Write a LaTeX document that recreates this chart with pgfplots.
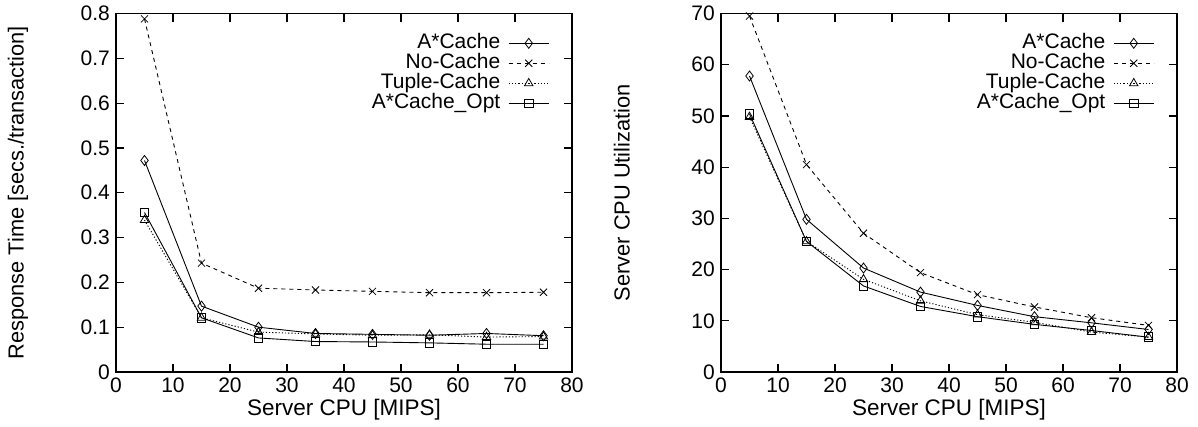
\documentclass[border=0pt]{standalone}
\usepackage{fontspec}
\setmainfont{Liberation Sans}
\usepackage{pgfplots}
\usepackage{pgfplotstable}
\pgfplotsset{compat=1.18}

\pgfplotstableread{
x   acache  nocache tuple  opt
5   0.472   0.788   0.339  0.356
15  0.147   0.243   0.121  0.121
25  0.100   0.187   0.089  0.076
35  0.086   0.183   0.085  0.068
45  0.084   0.180   0.082  0.067
55  0.082   0.177   0.083  0.065
65  0.086   0.177   0.078  0.062
75  0.081   0.178   0.079  0.062
}\resptable

\pgfplotstableread{
x   acache  nocache tuple  opt
5   57.8    69.5    49.8   50.4
15  29.8    40.5    25.5   25.5
25  20.3    27.1    18.1   16.8
35  15.6    19.4    13.9   12.8
45  13.0    15.1    11.2   10.8
55  10.8    12.7    9.7    9.3
65  9.6     10.6    7.8    8.1
75  8.3     9.1     6.8    6.8
}\utiltable

\newcommand{\tickfont}{\fontsize{21}{25}\selectfont}
\newcommand{\labfont}{\fontsize{22.5}{27}\selectfont}
\newcommand{\legfont}{\fontsize{21}{25}\selectfont}
\newcommand{\ylabfont}{\fontsize{21.8}{26}\selectfont}

\pgfplotsset{
  myaxis/.style={
    scale only axis, width=456pt, height=358.5pt, anchor=south west,
    xmin=0, xmax=80, xtick={0,10,...,80},
    tick align=inside, major tick length=8pt,
    axis line style={line width=1.2pt},
    every tick/.style={line width=1.2pt, black},
    tick label style={font=\tickfont},
    xticklabel style={inner sep=6pt},
    yticklabel style={inner sep=6pt},
    /pgf/number format/assume math mode=true,
    xlabel={Server CPU [MIPS]},
    every axis x label/.style={at={(axis description cs:0.5,-0.106)}, anchor=center, font=\labfont},
    legend plot pos=right,
    legend cell align=right,
    legend style={draw=none, fill=none, font=\legfont,
      at={(0.957,0.951)}, anchor=north east,
      nodes={inner xsep=0pt, inner ysep=0pt, text height=15.5pt, text depth=4.5pt},
      row sep=0pt, column sep=8pt},
    legend image code/.code={%
      \draw[mark repeat=2,mark phase=2,#1] plot coordinates {(0pt,0pt) (20pt,0pt) (40pt,0pt)};},
  },
  sA/.style={black, line width=0.9pt, solid, mark=diamond, mark size=5pt, mark options={solid, line width=0.8pt}},
  sN/.style={black, line width=0.9pt, dash pattern=on 4pt off 4pt, mark=x, mark size=5pt, mark options={solid, line width=0.8pt}},
  sT/.style={black, line width=0.9pt, dash pattern=on 1.2pt off 2pt, mark=triangle, mark size=4.8pt, mark options={solid, line width=0.8pt}},
  sO/.style={black, line width=0.9pt, solid, mark=square, mark size=4.3pt, mark options={solid, line width=0.8pt}},
}

\begin{document}
\labfont
\begin{tikzpicture}[x=1pt,y=1pt]
\useasboundingbox (0,0) rectangle (1198,426);

\begin{axis}[myaxis, at={(116pt,54pt)},
  ymin=0, ymax=0.8, ytick={0,0.1,...,0.8},
  yticklabel style={/pgf/number format/fixed, /pgf/number format/precision=1},
  ylabel={Response Time [secs./transaction]},
  every axis y label/.style={at={(axis description cs:-0.215,0.5)}, rotate=90, anchor=center, font=\ylabfont},
]
\addplot[sA] table[x=x,y=acache] {\resptable};
\addlegendentry{A*Cache}
\addplot[sN] table[x=x,y=nocache] {\resptable};
\addlegendentry{No-Cache}
\addplot[sT] table[x=x,y=tuple] {\resptable};
\addlegendentry{Tuple-Cache}
\addplot[sO] table[x=x,y=opt] {\resptable};
\addlegendentry{A*Cache\_Opt}
\end{axis}

\begin{axis}[myaxis, at={(721pt,54pt)},
  ymin=0, ymax=70, ytick={0,10,...,70},
  ylabel={Server CPU Utilization},
  every axis y label/.style={at={(axis description cs:-0.2176,0.5)}, rotate=90, anchor=center, font=\ylabfont},
]
\addplot[sA] table[x=x,y=acache] {\utiltable};
\addlegendentry{A*Cache}
\addplot[sN] table[x=x,y=nocache] {\utiltable};
\addlegendentry{No-Cache}
\addplot[sT] table[x=x,y=tuple] {\utiltable};
\addlegendentry{Tuple-Cache}
\addplot[sO] table[x=x,y=opt] {\utiltable};
\addlegendentry{A*Cache\_Opt}
\end{axis}
\end{tikzpicture}
\end{document}
